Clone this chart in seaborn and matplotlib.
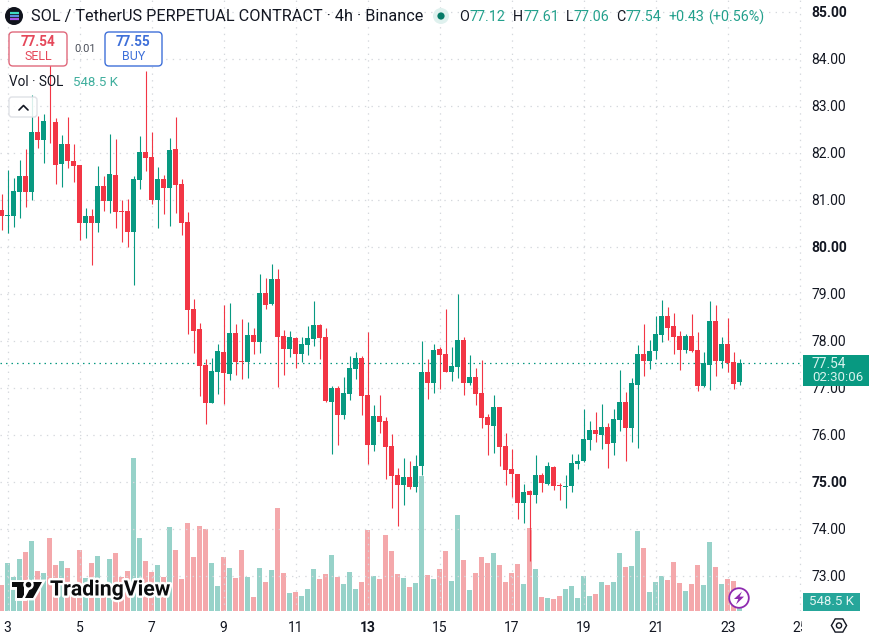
import numpy as np
import pandas as pd
import matplotlib
matplotlib.use("Agg")
import matplotlib.pyplot as plt
import matplotlib.patheffects as pe
from matplotlib.patches import FancyBboxPatch, Circle, Polygon, Rectangle, RegularPolygon
from matplotlib.transforms import Bbox, TransformedBbox
import seaborn as sns

# SOL/USDT perpetual, 4h candles
opens = [80.79,80.66,80.66,81.17,81.51,81.16,82.45,82.28,82.68,82.66,81.77,82.19,81.82,81.75,80.50,80.66,80.52,81.30,80.98,81.53,
         80.77,80.77,80.32,81.43,82.02,81.91,81.00,81.45,81.25,82.08,81.34,80.53,78.68,78.26,77.49,76.68,77.34,77.77,77.30,78.17,
         77.57,77.55,78.13,77.98,79.02,78.79,79.32,78.11,77.83,78.06,77.72,77.92,78.04,78.34,78.08,76.70,77.00,76.43,76.87,77.40,
         77.64,76.85,75.79,76.40,76.30,75.77,75.15,74.94,75.11,74.89,75.34,77.34,77.11,77.83,77.72,77.34,77.45,78.02,77.11,77.23,
         76.89,76.38,76.19,76.60,75.77,75.28,75.17,74.55,74.81,74.72,75.15,74.96,75.32,74.94,74.89,74.92,75.38,75.45,75.89,76.11,
         76.00,76.17,75.83,76.32,76.70,76.15,77.06,77.72,77.57,77.79,78.13,78.53,78.32,78.11,77.81,78.11,77.81,77.04,77.49,78.43,
         77.57,77.94,77.55,77.12]
highs = [81.13,81.64,81.46,81.85,82.08,83.23,82.79,82.82,83.91,82.74,82.38,82.77,82.19,81.75,80.82,80.80,81.72,81.50,82.40,82.29,
         81.00,81.03,81.50,82.36,83.74,82.44,81.70,81.53,82.32,82.77,81.45,80.74,78.89,78.38,77.62,77.64,77.94,78.77,78.81,78.36,
         78.47,78.40,78.28,79.43,79.34,79.64,79.53,78.23,78.21,78.08,78.08,78.32,78.85,78.36,78.28,77.04,77.04,77.23,77.68,77.77,
         77.68,78.19,76.64,76.85,76.38,76.02,75.30,75.51,75.45,75.57,78.00,77.62,77.94,77.87,78.68,77.87,79.00,78.08,77.70,77.43,
         77.60,76.45,76.85,76.60,76.04,75.70,75.17,74.96,74.83,75.57,75.19,75.43,75.34,74.98,75.15,75.60,75.60,76.55,76.30,76.49,
         76.66,76.26,76.55,77.38,76.91,77.21,77.91,78.36,78.02,78.53,78.87,78.72,78.60,78.21,78.15,78.57,78.19,77.77,78.85,78.77,
         78.09,78.49,77.77,77.61]
lows = [80.36,80.29,80.43,80.62,80.86,81.00,82.11,81.78,82.22,81.34,81.28,81.67,81.39,80.15,80.19,79.62,80.32,80.77,80.73,80.40,
        80.11,80.00,79.19,81.23,81.62,80.91,80.40,80.70,80.45,80.72,80.26,78.15,77.75,76.83,76.23,76.68,76.87,76.66,77.17,77.28,
        77.19,77.21,77.72,77.75,78.68,78.77,77.02,77.28,77.66,77.43,77.55,77.70,77.89,77.62,76.70,75.60,75.79,76.34,76.74,77.19,
        76.43,75.38,75.66,76.04,75.06,74.45,74.06,74.51,74.85,74.79,75.15,76.77,76.89,76.98,77.34,77.15,77.21,76.85,77.06,76.64,
        76.15,75.57,75.62,75.34,74.94,74.68,74.21,74.13,73.32,74.55,74.79,74.94,74.83,74.62,74.45,74.79,75.28,75.43,75.68,75.85,
        75.70,75.30,75.57,76.09,75.45,75.85,75.72,77.26,77.40,77.62,77.98,78.02,77.72,77.38,77.74,77.77,76.94,77.02,76.96,77.26,
        77.43,77.34,76.98,77.06]
closes = [80.66,80.67,81.19,81.51,81.16,82.45,82.28,82.68,82.67,81.75,82.19,81.82,81.73,80.50,80.66,80.52,81.30,80.98,81.55,80.75,
          80.75,80.32,81.45,82.02,81.90,81.00,81.45,81.25,82.06,81.32,80.51,78.66,78.21,77.47,76.68,77.36,77.79,77.32,78.17,77.55,
          77.55,78.13,77.98,79.02,78.77,79.32,78.08,77.83,78.08,77.72,77.94,78.06,78.34,78.06,76.72,77.00,76.43,76.89,77.43,77.64,
          76.83,75.79,76.40,76.28,75.74,75.13,74.94,75.11,74.89,75.34,77.34,77.11,77.81,77.70,77.34,77.47,78.02,77.11,77.23,76.87,
          76.36,76.21,76.60,75.74,75.26,75.17,74.55,74.79,74.72,75.15,74.98,75.34,74.92,74.92,74.92,75.40,75.45,75.92,76.11,76.02,
          76.17,75.81,76.34,76.70,76.15,77.11,77.72,77.57,77.79,78.15,78.53,78.28,78.09,77.81,78.11,77.79,77.04,77.53,78.43,77.57,
          77.94,77.53,77.09,77.54]
volume_k = [1426,2632,1865,2852,3236,3839,2194,2084,4003,2523,2742,2358,1426,3345,1810,2632,3016,1517,2852,3181,
            1865,2194,8391,4003,2742,2139,2523,1883,4607,3345,1755,4826,2961,4661,4497,2632,1371,2961,2358,1810,
            3345,1865,768,2358,1590,2248,5649,2084,987,1042,823,1206,2303,1755,2029,3071,1865,1481,2139,1206,
            1590,4442,1919,1755,4168,3290,2029,1810,1316,1536,7403,1974,1755,2303,3290,1645,5265,2797,1152,2084,
            2961,2632,3181,2523,1590,2084,2577,1481,4552,2303,768,713,658,823,1206,1371,713,1919,823,932,
            1590,1426,1590,3181,2413,2468,4387,3455,1042,1590,1919,1700,2687,1536,1097,1481,2523,1426,3784,2413,
            1481,1755,1645,548.5]
price_ticks = [73, 74, 75, 76, 77, 78, 79, 80, 81, 82, 83, 84, 85]
bold_prices = [75, 80, 85]
day_labels = [3, 5, 7, 9, 11, 13, 15, 17, 19, 21, 23, 25]
bold_days = [13]
last_price = 77.54

GREEN = "#089981"
RED = "#f23645"
VOL_GREEN = "#97d2c9"
VOL_RED = "#f4a8ab"
INK = "#131722"
GRID = "#d5d8dd"
FONT = "Roboto"

W, H = 874, 639
sns.set_theme(style="white")
plt.rcParams["font.family"] = [FONT, "DejaVu Sans"]

frame = pd.DataFrame({"open": opens, "high": highs, "low": lows, "close": closes, "volume": volume_k})
frame["index"] = np.arange(len(frame))
frame["up"] = np.where(frame["close"] >= frame["open"], "up", "down")

fig = plt.figure(figsize=(W / 100, H / 100), dpi=100, facecolor="white")
rect = [0, 1 - 611 / H, 802 / W, 611 / H]
xlim = (-0.278, 133.39)

# Volume pane shares the price pane's area, with its own scale
ax_vol = fig.add_axes(rect, zorder=1)
sns.barplot(data=frame, x="index", y="volume", hue="up", palette={"up": VOL_GREEN, "down": VOL_RED},
            native_scale=True, dodge=False, width=0.86, legend=False, errorbar=None, ax=ax_vol,
            saturation=1, linewidth=0)
ax_vol.set_xlim(*xlim)
ax_vol.set_ylim(0, 33513)
ax_vol.axis("off")

# Candles
ax = fig.add_axes(rect, zorder=2)
ax.patch.set_alpha(0)
colors = [GREEN if u == "up" else RED for u in frame["up"]]
ax.vlines(frame["index"], frame["low"], frame["high"], colors=colors, linewidth=0.8, zorder=3)
body_low = frame[["open", "close"]].min(axis=1)
body_high = frame[["open", "close"]].max(axis=1)
ax.bar(frame["index"], (body_high - body_low).clip(lower=0.02), bottom=body_low, width=0.88, color=colors, linewidth=0, zorder=4)
ax.axhline(last_price, color=GREEN, linewidth=0.9, linestyle=(0, (1.2, 3.2)), zorder=2)

ax.set_xlim(*xlim)
ax.set_ylim(72.255, 85.255)
ax.yaxis.tick_right()
ax.set_yticks(price_ticks)
ax.set_yticklabels([f"{p:.2f}" for p in price_ticks])
ax.set_xticks(range(1, 1 + 12 * len(day_labels), 12))
ax.set_xticklabels([str(d) for d in day_labels])
ax.tick_params(axis="y", length=0, pad=7.0, labelsize=10, labelcolor=INK)
ax.tick_params(axis="x", length=0, pad=7.5, labelsize=10, labelcolor=INK)
for tick, p in zip(ax.get_yticklabels(), price_ticks):
    tick.set_fontweight("bold" if p in bold_prices else "normal")
clip_region = TransformedBbox(Bbox([[0, 0], [802 / W, 1]]), fig.transFigure)
for tick, d in zip(ax.get_xticklabels(), day_labels):
    tick.set_fontweight("bold" if d in bold_days else "normal")
    tick.set_clip_box(clip_region)
    tick.set_clip_on(True)
ax.grid(True, color=GRID, linewidth=0.9, linestyle=(0, (1.1, 4.2)))
ax.set_axisbelow(True)
for s in ax.spines.values():
    s.set_visible(False)

# Interface layer, laid out in figure pixels
ui = fig.add_axes([0, 0, 1, 1], zorder=5)
ui.set_xlim(0, W)
ui.set_ylim(H, 0)
ui.axis("off")


def label(x, y, s, color=INK, px=13, weight="normal", ha="left", **kw):
    return ui.text(x, y, s, color=color, fontsize=px * 0.72, fontweight=weight, ha=ha, va="center", **kw)


def rounded(x0, y0, x1, y1, edge, face="white", lw=1.0, r=4):
    ui.add_patch(FancyBboxPatch((x0 + r, y0 + r), x1 - x0 - 2 * r, y1 - y0 - 2 * r,
                                boxstyle=f"round,pad={r},rounding_size={r}", fc=face, ec=edge, lw=lw))


# Symbol header
ui.add_patch(Circle((14, 16), 9, fc="#10131c", ec="none"))
for yy, c in zip((12.8, 16, 19.2), ("#3ddbc0", "#5a8fe0", "#a455e6")):
    ui.plot([9.5, 18.5], [yy, yy], color=c, lw=1.6, solid_capstyle="butt")
label(31, 16, "SOL / TetherUS PERPETUAL CONTRACT · 4h · Binance", px=16.3)
ui.add_patch(Circle((441, 16), 8, fc="#dff1ee", ec="none"))
ui.add_patch(Circle((441, 16), 3.6, fc="#067a67", ec="none"))

TEAL_TEXT = "#22a08c"
for x, s, c in [(459, "O", INK), (470, "77.12", TEAL_TEXT), (513, "H", INK), (523, "77.61", TEAL_TEXT),
                (566, "L", INK), (573, "77.06", TEAL_TEXT), (616, "C", INK), (626, "77.54", TEAL_TEXT),
                (668, "+0.43", TEAL_TEXT), (708, "(+0.56%)", TEAL_TEXT)]:
    label(x, 17, s, color=c, px=14.2)

# Order buttons
rounded(9, 32, 67, 66, "#e0697c")
label(38, 42, "77.54", color="#e5485a", px=13.5, weight="bold", ha="center")
label(38, 56, "SELL", color="#e5485a", px=12.5, ha="center")
label(85, 49.5, "0.01", color="#4a4e59", px=11, ha="center")
rounded(105, 32, 162, 66, "#3f70d9")
label(133.5, 42, "77.55", color="#3f70d9", px=13.5, weight="bold", ha="center")
label(133.5, 56, "BUY", color="#3f70d9", px=12.5, ha="center")

# Volume legend
label(9, 82, "Vol · SOL", px=13.5)
label(73, 82, "548.5 K", color="#3fae9d", px=13.3)
rounded(9, 97, 37, 117, "#dfe1e6", face=(1, 1, 1, 0.85), r=3)
ui.plot([19, 23.5, 28], [110, 105.5, 110], color=INK, lw=1.2)

# Axis badges
ui.add_patch(Rectangle((803, 355), 66, 31, fc=GREEN, ec="none"))
label(812, 364, "77.54", color="#d8f3ee", px=13.8)
label(812, 377.5, "02:30:06", color="#d8f3ee", px=13.2)
ui.add_patch(Rectangle((803, 593), 57, 17.5, fc="#26a69a", ec="none"))
label(831.5, 601.5, "548.5 K", color="#e2f5f2", px=13.2, ha="center")

# Lightning badge
ui.add_patch(Circle((739, 598), 9.8, fc="white", ec="#8e2bb0", lw=1.3))
ui.add_patch(Polygon([(742, 591.5), (734, 599), (738.3, 599), (736, 604.5), (744, 596.6), (739.6, 596.6)],
                     closed=True, fc="#8e2bb0", ec="none"))

# Scale settings glyph
ui.add_patch(RegularPolygon((839, 625.5), 6, radius=7.6, orientation=np.pi / 2, fc="none", ec=INK, lw=1.0))
ui.add_patch(Circle((839, 625.5), 2.6, fc="none", ec=INK, lw=1.0))

# Watermark with a white halo over the volume bars
halo = [pe.withStroke(linewidth=3.5, foreground="white")]
for shape in ([(12, 582), (24, 582), (24, 598), (17, 598), (17, 587), (12, 587)],
              [(33.5, 582), (42, 582), (33, 598), (25, 598)]):
    p = Polygon(shape, closed=True, fc="#0b0c0e", ec="none")
    p.set_path_effects([pe.withStroke(linewidth=3.5, foreground="white")])
    ui.add_patch(p)
dot = Circle((28.5, 584.7), 2.8, fc="#0b0c0e", ec="none")
dot.set_path_effects(halo)
ui.add_patch(dot)
label(50, 590, "TradingView", color="#0b0c0e", px=21.2, weight="bold", path_effects=halo)

fig.savefig("out.png", dpi=100, facecolor="white")
